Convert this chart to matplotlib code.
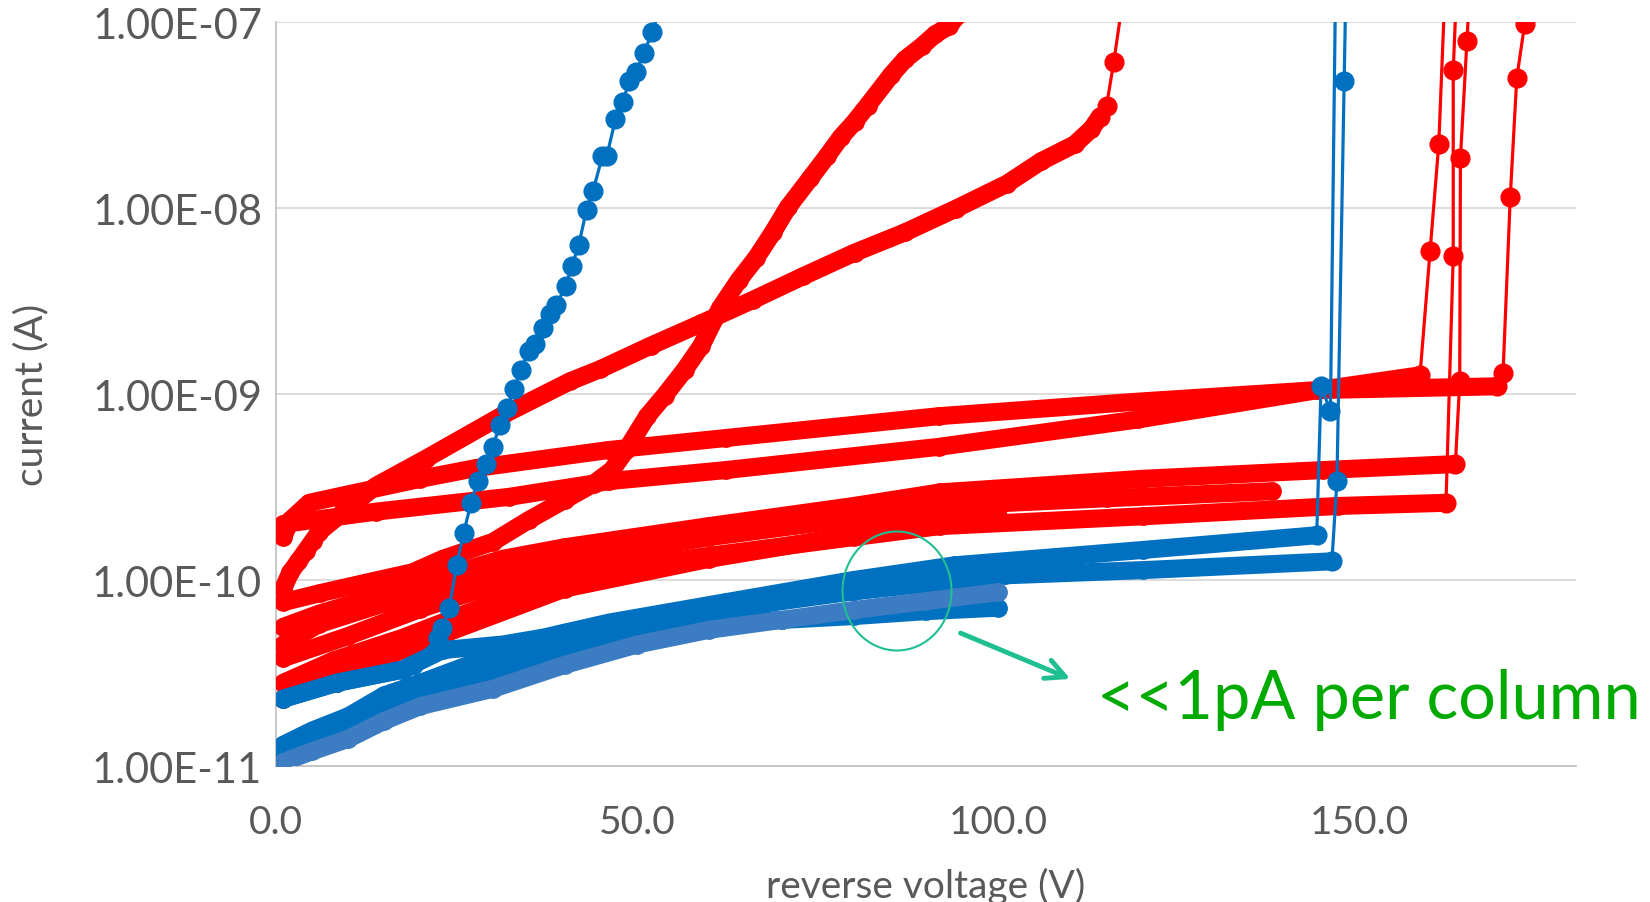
import matplotlib
matplotlib.use("Agg")
import matplotlib.pyplot as plt
from matplotlib.patches import Ellipse, FancyArrowPatch

plt.rcParams['font.family'] = ['Lato', 'DejaVu Sans']

# ---------------- data (reverse voltage V, current A) ----------------
x_ticks = [0, 50, 100, 150]
x_tick_labels = ['0.0', '50.0', '100.0', '150.0']
y_ticks = [1e-11, 1e-10, 1e-9, 1e-8, 1e-7]
y_tick_labels = ['1.00E-11', '1.00E-10', '1.00E-09', '1.00E-08', '1.00E-07']

# red devices
rg_v = [1, 10, 20, 40, 60, 80, 100]
rg_i = [2.3e-11, 3.2e-11, 4.6e-11, 9.0e-11, 1.3e-10, 1.75e-10, 2.2e-10]

rd_v = [1, 8, 17.6, 30, 40.7, 60, 80, 92, 120, 147, 162, 163.0, 163.0, 163.4]
rd_i = [2.8e-11, 3.7e-11, 4.9e-11, 7.5e-11, 1.05e-10, 1.35e-10, 1.7e-10, 1.95e-10,
        2.2e-10, 2.5e-10, 2.6e-10, 5.5e-9, 5.5e-8, 1.3e-7]

re_v = [1, 10, 20, 40, 60, 80, 92, 115, 137.9]
re_i = [3.8e-11, 5.0e-11, 7.0e-11, 1.25e-10, 1.7e-10, 2.15e-10, 2.5e-10, 2.75e-10, 3.0e-10]

rf_v = [1, 6, 15, 25, 40, 60, 80, 100.5]
rf_i = [4.5e-11, 5.8e-11, 7.5e-11, 9.5e-11, 1.3e-10, 1.75e-10, 2.3e-10, 3.0e-10]

rc_v = [1, 6, 15.4, 31.4, 40, 60, 80, 92, 120, 145, 163.3, 163.9, 164.0, 164.9, 165.2]
rc_i = [5.6e-11, 6.6e-11, 8.5e-11, 1.3e-10, 1.5e-10, 1.95e-10, 2.5e-10, 2.96e-10,
        3.5e-10, 3.9e-10, 4.2e-10, 1.17e-9, 1.86e-8, 7.9e-8, 1.3e-7]

rtop_v = [1, 2, 4.6, 8.4, 20, 27.7, 46.1, 62.3, 91.8, 119.4, 144.3, 169.1,
          169.9, 170.9, 171.8, 172.9, 173.3]
rtop_i = [1.7e-10, 2.1e-10, 2.6e-10, 2.8e-10, 3.5e-10, 4.0e-10, 5.0e-10, 5.8e-10,
          7.6e-10, 9.1e-10, 1.05e-9, 1.1e-9, 1.3e-9, 1.15e-8, 5.0e-8, 9.8e-8, 1.3e-7]

r2_v = [1, 13.8, 32.3, 46.1, 62.3, 91.8, 119.4, 144.3, 158.4, 159.8, 161.0, 161.8]
r2_i = [2.0e-10, 2.33e-10, 2.8e-10, 3.4e-10, 3.9e-10, 5.2e-10, 7.3e-10, 1.05e-9,
        1.26e-9, 5.9e-9, 2.2e-8, 1.3e-7]

rb_v = [1.0, 2.0, 3.1, 4.1, 5.1, 6.0, 13.8, 20.8, 31.4, 40.7, 44.9, 51.9, 58.9,
        66.0, 73.0, 80.1, 87.1, 94.1, 101.2, 105.9, 110.6, 112.9, 114.1, 115.0,
        116.0, 117.1]
rb_i = [9e-11, 1.1e-10, 1.26e-10, 1.43e-10, 1.62e-10, 1.82e-10, 3.2e-10, 4.5e-10,
        7.7e-10, 1.17e-9, 1.36e-9, 1.82e-9, 2.4e-9, 3.2e-9, 4.3e-9, 5.75e-9, 7.4e-9,
        9.9e-9, 1.35e-8, 1.78e-8, 2.2e-8, 2.66e-8, 3.1e-8, 3.55e-8, 6.1e-8, 1.2e-7]

ra_v = [1.0, 6.1, 13.1, 18.9, 23.1, 30, 35, 40, 44, 46.5, 48.5, 51.4, 53.8, 56.6,
        58.9, 61.5, 64.1, 66.5, 68.8, 70.9, 74.0, 76.3, 78.2, 80.1, 81.9, 85.2,
        87.1, 89.4, 91.3, 93.2, 94.5]
ra_i = [7.6e-11, 8.5e-11, 9.8e-11, 1.1e-10, 1.3e-10, 1.6e-10, 2.1e-10, 2.7e-10,
        3.3e-10, 3.9e-10, 5.0e-10, 7.6e-10, 9.8e-10, 1.35e-9, 1.82e-9, 2.9e-9,
        4.1e-9, 5.4e-9, 7.4e-9, 1.01e-8, 1.45e-8, 1.9e-8, 2.4e-8, 2.9e-8, 3.55e-8,
        5.2e-8, 6.3e-8, 7.4e-8, 8.6e-8, 9.5e-8, 1.1e-7]

# blue devices
b6_v = [1, 5, 10, 15, 20, 30, 40, 50, 60, 70, 80, 90, 100]
b6_i = [1.2e-11, 1.4e-11, 1.65e-11, 2.1e-11, 2.5e-11, 3.2e-11, 4.3e-11, 5.1e-11,
        5.8e-11, 6.1e-11, 6.4e-11, 6.8e-11, 7.1e-11]

b4_v = [1, 5, 10, 15, 20, 30, 40, 50, 60, 70, 80, 90, 100]
b4_i = [1.3e-11, 1.55e-11, 1.85e-11, 2.4e-11, 2.8e-11, 3.9e-11, 5.2e-11, 6.1e-11,
        7.0e-11, 7.9e-11, 8.7e-11, 9.7e-11, 1.07e-10]

b3_v = [1, 5, 10, 15, 20, 30, 40, 60, 80, 101, 120, 146.2, 146.9, 147.9, 148.1]
b3_i = [1.25e-11, 1.5e-11, 1.75e-11, 2.3e-11, 2.7e-11, 3.6e-11, 4.9e-11, 6.8e-11,
        8.7e-11, 1.06e-10, 1.13e-10, 1.26e-10, 3.4e-10, 4.8e-8, 1.3e-7]

b2_v = [1, 8.4, 17.6, 18.9, 23.1, 31.4, 37, 46.1, 62.3, 80, 94, 120, 144.1,
        144.7, 146.0, 146.7]
b2_i = [2.3e-11, 2.8e-11, 3.3e-11, 3.5e-11, 4.2e-11, 4.5e-11, 4.9e-11, 5.9e-11,
        7.6e-11, 1.0e-10, 1.2e-10, 1.45e-10, 1.74e-10, 1.1e-9, 8.1e-10, 1.5e-7]

b5_v = [1, 5, 10, 15, 20, 30, 40, 50, 60, 70, 80, 90, 100]
b5_i = [1.05e-11, 1.2e-11, 1.4e-11, 1.75e-11, 2.1e-11, 2.6e-11, 3.5e-11, 4.5e-11,
        5.4e-11, 6.1e-11, 6.9e-11, 7.7e-11, 8.6e-11]

b1_v = [1, 8.4, 17.6, 18.9, 22.4, 23, 24, 25, 26, 27, 27.9, 29.1, 30, 31, 32, 33,
        33.9, 35, 35.9, 36.9, 38, 38.8, 40.1, 41, 41.9, 43, 43.9, 45.2, 45.8, 47,
        48, 48.9, 49.9, 50.9, 52.1, 53.1]
b1_i = [2.3e-11, 2.8e-11, 3.3e-11, 3.5e-11, 4.9e-11, 5.5e-11, 7.1e-11, 1.2e-10,
        1.8e-10, 2.6e-10, 3.4e-10, 4.2e-10, 5.2e-10, 6.8e-10, 8.4e-10, 1.07e-9,
        1.35e-9, 1.7e-9, 1.86e-9, 2.25e-9, 2.7e-9, 3.0e-9, 3.8e-9, 4.9e-9, 6.3e-9,
        9.8e-9, 1.24e-8, 1.9e-8, 1.9e-8, 3.0e-8, 3.7e-8, 4.8e-8, 5.4e-8, 6.8e-8,
        8.8e-8, 1.17e-7]

# ---------------- styles ----------------
RED = '#FF0000'
BLUE = '#0070C0'
LBLUE = '#3B7CC2'

# (v, i, colour, index of last densely-sampled point)
series = [
    (rg_v, rg_i, RED, len(rg_v) - 1),
    (rd_v, rd_i, RED, 10),
    (re_v, re_i, RED, len(re_v) - 1),
    (rf_v, rf_i, RED, len(rf_v) - 1),
    (rc_v, rc_i, RED, 10),
    (rtop_v, rtop_i, RED, 11),
    (r2_v, r2_i, RED, 8),
    (rb_v, rb_i, RED, 22),
    (ra_v, ra_i, RED, len(ra_v) - 1),
    (b6_v, b6_i, BLUE, len(b6_v) - 1),
    (b4_v, b4_i, BLUE, len(b4_v) - 1),
    (b3_v, b3_i, BLUE, 11),
    (b2_v, b2_i, BLUE, 12),
    (b5_v, b5_i, LBLUE, len(b5_v) - 1),
    (b1_v, b1_i, BLUE, 3),
]

W, H = 1650, 903
fig = plt.figure(figsize=(W / 100, H / 100), dpi=100)
ax = fig.add_axes([276 / W, 1 - 767 / H, 1300 / W, 744 / H])

LW_DENSE = 13
MS_DENSE = 12.5
MS_SPARSE = 13.5
for v, i, c, nd in series:
    ax.plot(v[:nd + 1], i[:nd + 1], color=c, lw=LW_DENSE, solid_capstyle='round',
            solid_joinstyle='round', marker='o', ms=MS_DENSE, mec=c, mfc=c, zorder=3)
    if nd < len(v) - 1:
        ax.plot(v[nd:], i[nd:], color=c, lw=2.3, marker='o', ms=MS_SPARSE,
                mec=c, mfc=c, zorder=3)

ax.set_yscale('log')
ax.set_xlim(0, 180)
ax.set_ylim(1e-11, 1e-7)
ax.set_yticks(y_ticks)
ax.set_yticklabels(y_tick_labels)
ax.set_xticks(x_ticks)
ax.set_xticklabels(x_tick_labels)
ax.yaxis.set_minor_locator(matplotlib.ticker.NullLocator())
ax.tick_params(axis='both', length=0, labelcolor='#595959')
ax.tick_params(axis='y', pad=10, labelsize=30)
ax.tick_params(axis='x', pad=27, labelsize=28)
ax.grid(axis='y', color='#D9D9D9', lw=1.3)
ax.grid(axis='x', visible=False)
ax.set_axisbelow(True)
for s in ['top', 'right']:
    ax.spines[s].set_visible(False)
for s in ['left', 'bottom']:
    ax.spines[s].set_color('#BFBFBF')
    ax.spines[s].set_linewidth(1.2)

ax.set_xlabel('reverse voltage (V)', fontsize=28, color='#595959')
ax.set_ylabel('current (A)', fontsize=28, color='#595959')
ax.xaxis.set_label_coords(0.5, -0.16)
ax.xaxis.label.set_va('center')
ax.yaxis.set_label_coords(-0.188, 0.5)
ax.yaxis.label.set_va('center')

# annotation
TEAL = '#1FBF92'
fig.add_artist(Ellipse((897 / W, 1 - 592 / H), 109 / W, 119 / H,
                       transform=fig.transFigure, fill=False, ec=TEAL, lw=1.5))
fig.add_artist(FancyArrowPatch(
    (958 / W, 1 - 633 / H), (1073 / W, 1 - 681 / H), transform=fig.transFigure,
    arrowstyle='->,head_length=14,head_width=7', color=TEAL, lw=3.5,
    mutation_scale=1))
fig.text(1097 / W, 1 - 719 / H, '<<1pA per column', fontsize=48,
         color='#00AA00', ha='left', va='baseline')

fig.savefig('out.png', dpi=100)
